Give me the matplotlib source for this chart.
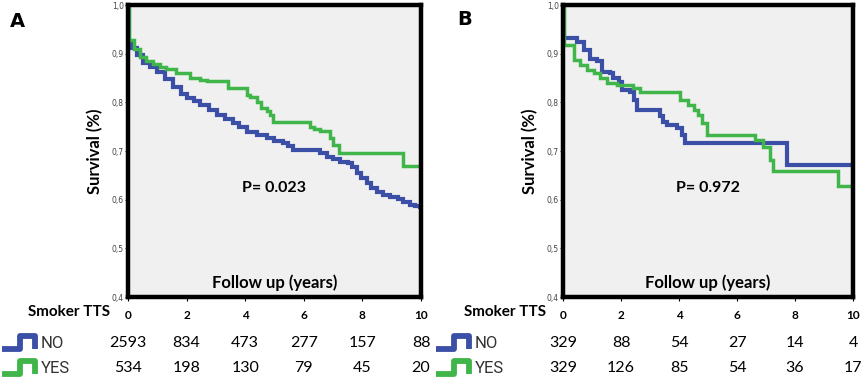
import numpy as np
import matplotlib
matplotlib.use("Agg")
import matplotlib.pyplot as plt
from matplotlib.ticker import FixedLocator

plt.rcParams['font.family'] = ['Lato', 'DejaVu Sans']

# Curva de sobrevida (tempo em anos, sobrevida) - painel A
a_no_t = [0, 0.02, 0.05, 0.1, 0.3, 0.52, 0.75, 0.98, 1.25, 1.55, 1.8, 2.0, 2.25, 2.46, 2.75,
          3.03, 3.3, 3.59, 3.8, 4.05, 4.4, 4.73, 5.0, 5.3, 5.45, 5.64, 6.0, 6.33, 6.55, 6.78,
          7.0, 7.24, 7.52, 7.65, 7.8, 7.95, 8.14, 8.3, 8.49, 8.7, 8.94, 9.2, 9.4, 9.62, 9.8, 9.97]
a_no_s = [1.0, 0.95, 0.925, 0.912, 0.898, 0.881, 0.872, 0.863, 0.848, 0.832, 0.818, 0.808, 0.802, 0.795, 0.785,
          0.774, 0.766, 0.757, 0.749, 0.740, 0.733, 0.726, 0.721, 0.716, 0.710, 0.703, 0.703, 0.702, 0.695, 0.688,
          0.683, 0.678, 0.675, 0.668, 0.654, 0.644, 0.634, 0.624, 0.616, 0.610, 0.606, 0.601, 0.596, 0.589, 0.587, 0.585]
a_yes_t = [0, 0.02, 0.05, 0.2, 0.4, 0.62, 0.85, 1.1, 1.3, 1.65, 2.1, 2.46, 2.7, 3.4, 4.05, 4.15, 4.4,
           4.55, 4.73, 4.85, 4.95, 6.2, 6.35, 6.55, 6.9, 7.0, 7.2, 9.4, 10.0]
a_yes_s = [1.0, 0.96, 0.928, 0.91, 0.894, 0.885, 0.878, 0.873, 0.869, 0.860, 0.851, 0.846, 0.844, 0.829, 0.815, 0.81, 0.80,
           0.788, 0.783, 0.775, 0.760, 0.750, 0.745, 0.741, 0.727, 0.713, 0.695, 0.670, 0.670]

# painel B
b_no_t = [0, 0.02, 0.05, 0.48, 0.71, 0.94, 1.17, 1.34, 1.63, 1.74, 1.92, 2.03, 2.32, 2.45, 2.55,
          3.35, 3.46, 3.6, 3.92, 4.1, 4.2, 7.73, 10.0]
b_no_s = [1.0, 0.96, 0.932, 0.925, 0.908, 0.890, 0.884, 0.863, 0.860, 0.849, 0.842, 0.825, 0.822, 0.805, 0.784,
          0.771, 0.760, 0.753, 0.747, 0.733, 0.716, 0.671, 0.671]
b_yes_t = [0, 0.02, 0.05, 0.37, 0.6, 0.83, 1.06, 1.28, 1.51, 1.86, 2.4, 2.66, 4.04, 4.3, 4.5, 4.65,
           4.78, 4.95, 6.62, 6.9, 7.13, 7.25, 9.48, 10.0]
b_yes_s = [1.0, 0.95, 0.918, 0.887, 0.877, 0.866, 0.860, 0.849, 0.839, 0.836, 0.829, 0.821, 0.805, 0.795, 0.784, 0.774,
           0.757, 0.733, 0.723, 0.709, 0.682, 0.658, 0.628, 0.628]

# Numeros em risco
anos = [0, 2, 4, 6, 8, 10]
a_risco_no = [2593, 834, 473, 277, 157, 88]
a_risco_yes = [534, 198, 130, 79, 45, 20]
b_risco_no = [329, 88, 54, 27, 14, 4]
b_risco_yes = [329, 126, 85, 54, 36, 17]

azul = '#3b4fa6'
verde = '#3fb54a'


def painel(fig, rect, letra, pos_letra, no_t, no_s, yes_t, yes_s, pval, risco_no, risco_yes, icon_x):
    ax = fig.add_axes(rect)
    ax.set_facecolor('#f0f0f0')
    ax.step(no_t, no_s, where='post', color=azul, lw=3.0, solid_joinstyle='miter')
    ax.step(yes_t, yes_s, where='post', color=verde, lw=2.5, solid_joinstyle='miter')
    ax.set_xlim(0, 10)
    ax.set_ylim(0.4, 1.0)
    for sp in ax.spines.values():
        sp.set_linewidth(3.2)
        sp.set_color('black')
    ax.xaxis.set_major_locator(FixedLocator(anos))
    ax.set_xticklabels([str(a) for a in anos], fontweight='bold', fontsize=8.5)
    yt = [0.4, 0.5, 0.6, 0.7, 0.8, 0.9, 1.0]
    ax.yaxis.set_major_locator(FixedLocator(yt))
    ax.set_yticklabels([f'{v:.1f}'.replace('.', ',') for v in yt], fontsize=5.5, color='#444444',
                       family='DejaVu Sans')
    ax.tick_params(axis='x', length=3, width=0.8, pad=6)
    ax.tick_params(axis='y', length=2, width=0.6, pad=1)
    ax.set_ylabel('Survival (%)', fontweight='bold', fontsize=12, labelpad=6)
    ax.text(0.5, 0.05, 'Follow up (years)', transform=ax.transAxes, ha='center', va='center',
            fontweight='bold', fontsize=12)
    ax.text(0.5, 0.375, pval, transform=ax.transAxes, ha='center', va='center',
            fontweight='bold', fontsize=11.5)
    fig.text(pos_letra[0], pos_letra[1], letra, fontweight='bold', fontsize=14, ha='left', va='center',
             family='DejaVu Sans')

    tr = ax.get_xaxis_transform()
    ax.text(-0.06, -0.052, 'Smoker TTS', transform=ax.transAxes, ha='right', va='center',
            fontweight='bold', fontsize=11)
    for x, n1, n2 in zip(anos, risco_no, risco_yes):
        ax.text(x, -0.158, str(n1), transform=tr, ha='center', va='center', fontsize=11.5, clip_on=False)
        ax.text(x, -0.243, str(n2), transform=tr, ha='center', va='center', fontsize=11.5, clip_on=False)

    # icones da legenda
    for yb, cor, rot in [(0.078, azul, 'NO'), (0.013, verde, 'YES')]:
        ic = fig.add_axes([icon_x, yb, 0.042, 0.05])
        ic.plot([0, 0.5, 0.5, 0.9, 0.9], [0.15, 0.15, 0.85, 0.85, 0.15], color=cor, lw=4.2,
                solid_joinstyle='round', solid_capstyle='butt')
        ic.set_xlim(0, 1)
        ic.set_ylim(0, 1)
        ic.axis('off')
        fig.text(icon_x + 0.045, yb + 0.022, rot, fontsize=12, color='#333333', ha='left', va='center',
                 family='Roboto', fontstretch='condensed')
    return ax


fig = plt.figure(figsize=(8.67, 3.82), dpi=100)
painel(fig, [0.1476, 0.2225, 0.338, 0.7644], 'A', (0.012, 0.945),
       a_no_t, a_no_s, a_yes_t, a_yes_s, 'P= 0.023', a_risco_no, a_risco_yes, 0.002)
painel(fig, [0.6494, 0.2225, 0.3345, 0.7644], 'B', (0.527, 0.95),
       b_no_t, b_no_s, b_yes_t, b_yes_s, 'P= 0.972', b_risco_no, b_risco_yes, 0.503)

fig.savefig('out.png', dpi=100)
